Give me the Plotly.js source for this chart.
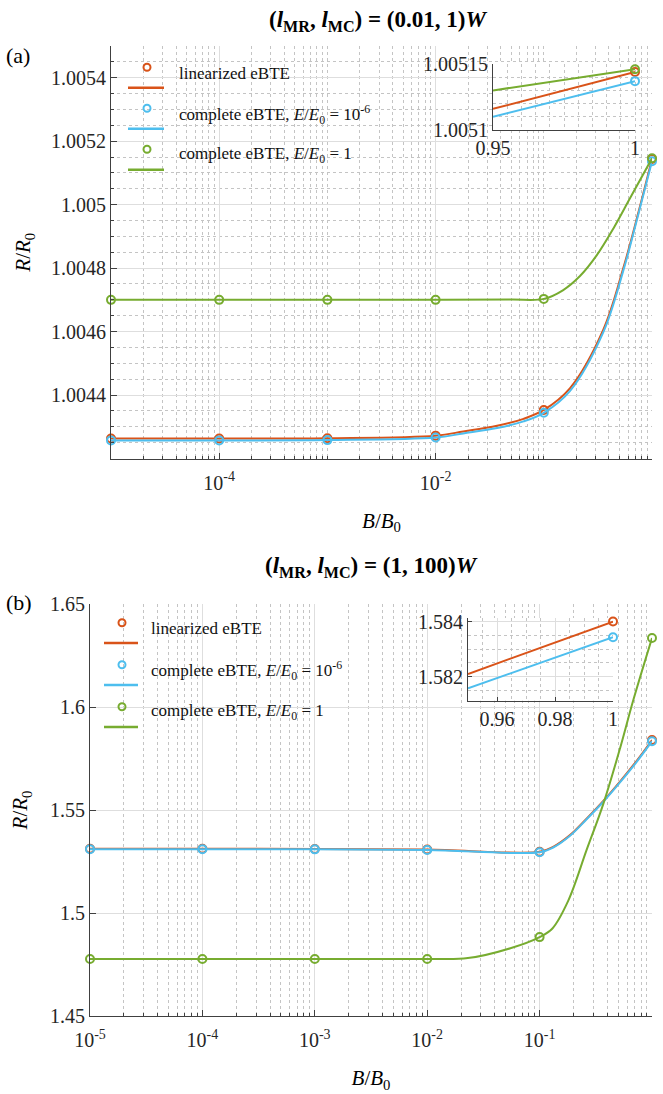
<!DOCTYPE html>
<html><head><meta charset="utf-8">
<script src="https://cdn.plot.ly/plotly-3.0.1.min.js"></script>
<style>html,body{margin:0;padding:0;background:#fff}</style>
</head><body><div id="chart" style="width:663px;height:1094px"></div>
<script>
// ---------- data ----------
const B = [1e-5, 1e-4, 1e-3, 1e-2, 1e-1, 1];
// panel (a): (l_MR, l_MC) = (0.01, 1)W  -- marker values
const aLin    = [1.004263, 1.004263, 1.004264, 1.004272, 1.004353, 1.005144];
const aCompl6 = [1.004257, 1.004257, 1.004258, 1.004266, 1.004344, 1.005137];
const aCompl1 = [1.004700, 1.004700, 1.004700, 1.004700, 1.004703, 1.005146];
// panel (a) curves
const aCurveB      = [1e-5, 1e-4, 1e-3, 1e-2, 0.018, 0.037, 0.065, 0.1, 0.175, 0.355, 0.543, 0.748, 1];
const aCurveLin    = [1.004263, 1.004263, 1.004264, 1.004272, 1.004285, 1.004303, 1.004325, 1.004353, 1.004422, 1.004606, 1.0048, 1.004975, 1.005144];
const aCurveCompl6 = [1.004257, 1.004257, 1.004258, 1.004266, 1.004279, 1.004296, 1.004317, 1.004344, 1.004413, 1.004598, 1.004792, 1.00497, 1.005137];
const aCurveB1     = [1e-5, 1e-4, 1e-3, 1e-2, 0.05, 0.1, 0.15, 0.216, 0.308, 0.44, 0.626, 1];
const aCurveCompl1 = [1.0047, 1.0047, 1.0047, 1.0047, 1.004701, 1.004703, 1.00473, 1.004775, 1.00484, 1.004925, 1.00502, 1.005146];
// panel (a) inset
const insetB = [0.95, 1];
const aInsetLin    = [1.005116, 1.005144];
const aInsetCompl6 = [1.00511, 1.005137];
const aInsetCompl1 = [1.00513, 1.005146];

// panel (b): (l_MR, l_MC) = (1, 100)W -- marker values
const bLin    = [1.5312, 1.5312, 1.5311, 1.5308, 1.5297, 1.5840];
const bCompl6 = [1.5310, 1.5310, 1.5309, 1.5306, 1.5295, 1.5834];
const bCompl1 = [1.4777, 1.4777, 1.4777, 1.4777, 1.4883, 1.6335];
// panel (b) curves
const bCurveB      = [1e-5, 1e-4, 1e-3, 1e-2, 0.1, 0.132, 0.1865, 0.262, 0.369, 0.519, 0.731, 1];
const bCurveLin    = [1.5312, 1.5312, 1.5311, 1.5308, 1.5297, 1.5321, 1.5378, 1.5458, 1.5544, 1.5638, 1.5739, 1.5840];
const bCurveCompl6 = [1.5310, 1.5310, 1.5309, 1.5306, 1.5295, 1.5318, 1.5375, 1.5455, 1.5540, 1.5634, 1.5734, 1.5834];
const bCurveB1     = [1e-5, 1e-4, 1e-3, 1e-2, 0.023, 0.055, 0.1, 0.13, 0.18, 0.262, 0.369, 0.52, 0.682, 1];
const bCurveCompl1 = [1.4777, 1.4777, 1.4777, 1.4777, 1.4781, 1.4829, 1.4883, 1.4925, 1.5060, 1.5306, 1.5530, 1.5800, 1.6034, 1.6335];
// panel (b) inset
const bInsetLin    = [1.5821, 1.5840];
const bInsetCompl6 = [1.58158, 1.58343];

// labels
const seriesNames = ['linearized eBTE',
  'complete eBTE, <i>E</i>/<i>E</i><sub>0</sub> = 10<sup>-6</sup>',
  'complete eBTE, <i>E</i>/<i>E</i><sub>0</sub> = 1'];
const aXTickVals = [1e-4, 1e-2, 1];
const aXTickText = ['10<sup>-4</sup>', '10<sup>-2</sup>', '10<sup>0</sup>'];
const bXTickVals = [1e-5, 1e-4, 1e-3, 1e-2, 1e-1, 1];
const bXTickText = ['10<sup>-5</sup>', '10<sup>-4</sup>', '10<sup>-3</sup>', '10<sup>-2</sup>', '10<sup>-1</sup>', '10<sup>0</sup>'];
const aYTickVals = [1.0044, 1.0046, 1.0048, 1.005, 1.0052, 1.0054];
const aYTickText = ['1.0044', '1.0046', '1.0048', '1.005', '1.0052', '1.0054'];
const bYTickVals = [1.45, 1.5, 1.55, 1.6, 1.65];
const bYTickText = ['1.45', '1.5', '1.55', '1.6', '1.65'];
const aInXTickVals = [0.95, 1], aInXTickText = ['0.95', '1'];
const aInYTickVals = [1.0051, 1.00515], aInYTickText = ['1.0051', '1.00515'];
const bInXTickVals = [0.96, 0.98, 1], bInXTickText = ['0.96', '0.98', '1'];
const bInYTickVals = [1.582, 1.584], bInYTickText = ['1.582', '1.584'];

// ---------- styling ----------
const COL = ['#D95319', '#4DBEEE', '#77AC30'];
const FONT = '"Liberation Serif", "Times New Roman", serif';
const W = 663, H = 1094;
const px = v => v / W, py = v => 1 - v / H;

function minorLog(extraDecades) {
  const out = extraDecades.slice();
  for (let k = -5; k <= -1; k++) for (let m = 2; m <= 9; m++) out.push(m * Math.pow(10, k));
  return out;
}

const traces = [];
function addSeries(cx, cy, mx, my, i, xa, ya) {
  traces.push({x: cx, y: cy, xaxis: xa, yaxis: ya, type: 'scatter', mode: 'lines',
    line: {color: COL[i], width: 2, shape: 'spline', smoothing: 1},
    name: seriesNames[i], showlegend: false, hoverinfo: 'skip'});
  traces.push({x: mx, y: my, xaxis: xa, yaxis: ya, type: 'scatter', mode: 'markers', cliponaxis: false,
    marker: {symbol: 'circle-open', size: 8, color: COL[i], line: {width: 2, color: COL[i]}},
    name: seriesNames[i], showlegend: false});
}
addSeries(aCurveB, aCurveLin, B, aLin, 0, 'x', 'y');
addSeries(aCurveB, aCurveCompl6, B, aCompl6, 1, 'x', 'y');
addSeries(aCurveB1, aCurveCompl1, B, aCompl1, 2, 'x', 'y');
addSeries(bCurveB, bCurveLin, B, bLin, 0, 'x2', 'y2');
addSeries(bCurveB, bCurveCompl6, B, bCompl6, 1, 'x2', 'y2');
addSeries(bCurveB1, bCurveCompl1, B, bCompl1, 2, 'x2', 'y2');
function addInset(y, i, xa, ya) {
  traces.push({x: insetB, y: y, xaxis: xa, yaxis: ya, type: 'scatter', mode: 'lines',
    line: {color: COL[i], width: 2}, showlegend: false, hoverinfo: 'skip'});
  traces.push({x: insetB.slice(-1), y: y.slice(-1), xaxis: xa, yaxis: ya, type: 'scatter', mode: 'markers',
    cliponaxis: false, marker: {symbol: 'circle-open', size: 8, color: COL[i], line: {width: 2, color: COL[i]}},
    showlegend: false});
}
addInset(aInsetLin, 0, 'x3', 'y3');
addInset(aInsetCompl6, 1, 'x3', 'y3');
addInset(aInsetCompl1, 2, 'x3', 'y3');
addInset(bInsetLin, 0, 'x4', 'y4');
addInset(bInsetCompl6, 1, 'x4', 'y4');

function tf() { return {family: FONT, size: 20, color: '#262626'}; }
function axBase(extra) {
  return Object.assign({showline: true, linecolor: '#404040', linewidth: 1, mirror: false, ticks: 'inside',
    ticklen: 6, tickcolor: '#404040', showgrid: true, gridcolor: '#dedede', gridwidth: 1, zeroline: false,
    tickfont: tf(), tickmode: 'array', fixedrange: true}, extra);
}
function minorBase(extra) {
  return Object.assign({ticks: 'inside', ticklen: 3, tickcolor: '#404040', showgrid: true, gridcolor: '#c4c4c4', griddash: 'dot', gridwidth: 1}, extra);
}
function titleFont() { return {family: FONT, size: 21, color: '#000'}; }

// custom legends (marker above line, text to the right)
const shapes = [], annotations = [];
function addLegend(markerX, lineX0, lineX1, textX, firstY, step, lineDy, textDy) {
  for (let i = 0; i < 3; i++) {
    const my = firstY + i * step;
    shapes.push({type: 'circle', xref: 'paper', yref: 'paper', xsizemode: 'pixel', ysizemode: 'pixel',
      xanchor: px(markerX), yanchor: py(my), x0: -3.5, x1: 3.5, y0: -3.5, y1: 3.5,
      line: {color: COL[i], width: 2}, fillcolor: 'rgba(0,0,0,0)'});
    shapes.push({type: 'line', xref: 'paper', yref: 'paper', x0: px(lineX0), x1: px(lineX1),
      y0: py(my + lineDy), y1: py(my + lineDy), line: {color: COL[i], width: 2.5}});
    annotations.push({text: seriesNames[i], xref: 'paper', yref: 'paper', x: px(textX), y: py(my + textDy),
      xanchor: 'left', yanchor: 'middle', showarrow: false, font: {family: FONT, size: 17, color: '#111'}});
  }
}
addLegend(147, 128, 164, 177, 67.3, 41, 20.5, 6);
addLegend(122, 104, 138, 149, 622.7, 42, 20.3, 5.6);

annotations.push(
  {text: '<b>(<i>l</i><sub>MR</sub>, <i>l</i><sub>MC</sub>) = (0.01, 1)<i>W</i></b>', xref: 'paper', yref: 'paper',
    x: px(378), y: py(21), xanchor: 'center', yanchor: 'middle', showarrow: false, font: {family: FONT, size: 23, color: '#000'}},
  {text: '<b>(<i>l</i><sub>MR</sub>, <i>l</i><sub>MC</sub>) = (1, 100)<i>W</i></b>', xref: 'paper', yref: 'paper',
    x: px(371), y: py(567), xanchor: 'center', yanchor: 'middle', showarrow: false, font: {family: FONT, size: 23, color: '#000'}},
  {text: '(a)', xref: 'paper', yref: 'paper', x: px(4), y: py(55), xanchor: 'left', yanchor: 'middle',
    showarrow: false, font: {family: FONT, size: 22, color: '#000'}},
  {text: '(b)', xref: 'paper', yref: 'paper', x: px(4), y: py(602), xanchor: 'left', yanchor: 'middle',
    showarrow: false, font: {family: FONT, size: 22, color: '#000'}}
);

const layout = {
  width: W, height: H, margin: {l: 0, r: 0, t: 0, b: 0},
  font: {family: FONT, size: 20, color: '#262626'},
  paper_bgcolor: '#fff', plot_bgcolor: '#fff', showlegend: false,
  xaxis: axBase({domain: [px(111), px(652)], anchor: 'y', type: 'log', range: [-5, 0],
    tickvals: aXTickVals, ticktext: aXTickText, ticklabelstandoff: 6,
    minor: minorBase({tickmode: 'array', tickvals: minorLog([1e-5, 1e-3, 1e-1])}),
    title: {text: '<i>B</i>/<i>B</i><sub>0</sub>', font: titleFont(), standoff: 20}}),
  yaxis: axBase({domain: [py(458.5), py(46)], anchor: 'x', range: [1.0042, 1.0055],
    tickvals: aYTickVals, ticktext: aYTickText,
    minor: minorBase({tickmode: 'linear', tick0: 1.0042, dtick: 0.00005}),
    title: {text: '<i>R</i>/<i>R</i><sub>0</sub>', font: titleFont(), standoff: 14}}),
  xaxis2: axBase({domain: [px(90), px(652)], anchor: 'y2', type: 'log', range: [-5, 0],
    tickvals: bXTickVals, ticktext: bXTickText, ticklabelstandoff: 6,
    minor: minorBase({tickmode: 'array', tickvals: minorLog([])}),
    title: {text: '<i>B</i>/<i>B</i><sub>0</sub>', font: titleFont(), standoff: 20}}),
  yaxis2: axBase({domain: [py(1016), py(604)], anchor: 'x2', range: [1.45, 1.65],
    tickvals: bYTickVals, ticktext: bYTickText,
    title: {text: '<i>R</i>/<i>R</i><sub>0</sub>', font: titleFont(), standoff: 16}}),
  xaxis3: axBase({domain: [px(493), px(635)], anchor: 'y3', range: [0.95, 1],
    tickvals: aInXTickVals, ticktext: aInXTickText, ticklen: 4,
    minor: minorBase({tickmode: 'linear', tick0: 0.95, dtick: 0.005, ticks: ''})}),
  yaxis3: axBase({domain: [py(130), py(64)], anchor: 'x3', range: [1.0051, 1.00515],
    tickvals: aInYTickVals, ticktext: aInYTickText, ticklen: 4,
    minor: minorBase({tickmode: 'linear', tick0: 1.0051, dtick: 0.00001, ticks: ''})}),
  xaxis4: axBase({domain: [px(468), px(613)], anchor: 'y4', range: [0.95, 1],
    tickvals: bInXTickVals, ticktext: bInXTickText, ticklen: 4,
    minor: minorBase({tickmode: 'linear', tick0: 0.95, dtick: 0.005, ticks: ''})}),
  yaxis4: axBase({domain: [py(700.7), py(618)], anchor: 'x4', range: [1.58113, 1.58413],
    tickvals: bInYTickVals, ticktext: bInYTickText, ticklen: 4,
    minor: minorBase({tickmode: 'linear', tick0: 1.5815, dtick: 0.0005, ticks: ''})}),
  shapes: shapes,
  annotations: annotations
};

Plotly.newPlot('chart', traces, layout, {displayModeBar: false, staticPlot: true});
</script></body></html>
